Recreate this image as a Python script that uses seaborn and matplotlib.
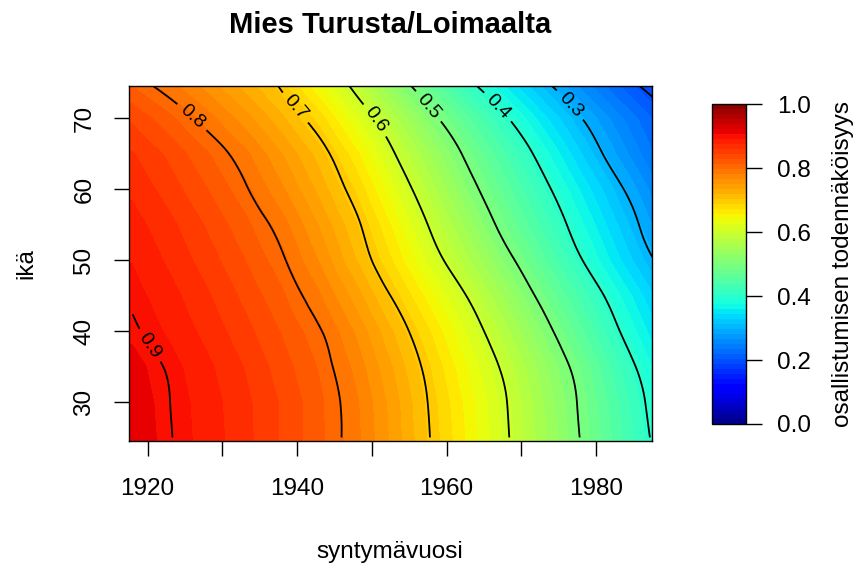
import numpy as np
import matplotlib
matplotlib.use("Agg")
import matplotlib.pyplot as plt
import matplotlib.tri as mtri
from matplotlib.colors import ListedColormap, Normalize
import seaborn as sns

# Predicted participation probability by birth year (columns) and age (rows)
birth_years = [1918, 1923, 1928, 1933, 1938, 1943, 1948, 1953,
               1958, 1963, 1968, 1973, 1978, 1983, 1988]
ages = [25, 30, 35, 40, 45, 50, 55, 60, 65, 70, 75]

p_age25 = [0.916, 0.901, 0.884, 0.865, 0.842, 0.817, 0.786, 0.744, 0.698, 0.652, 0.604, 0.552, 0.498, 0.444, 0.392]
p_age30 = [0.915, 0.900, 0.883, 0.864, 0.842, 0.817, 0.784, 0.742, 0.695, 0.649, 0.601, 0.548, 0.494, 0.439, 0.385]
p_age35 = [0.912, 0.897, 0.879, 0.859, 0.836, 0.811, 0.776, 0.733, 0.687, 0.639, 0.590, 0.537, 0.483, 0.426, 0.371]
p_age40 = [0.903, 0.888, 0.870, 0.850, 0.827, 0.802, 0.763, 0.718, 0.671, 0.621, 0.568, 0.514, 0.458, 0.402, 0.348]
p_age45 = [0.897, 0.881, 0.862, 0.840, 0.816, 0.784, 0.742, 0.695, 0.647, 0.596, 0.542, 0.487, 0.433, 0.379, 0.327]
p_age50 = [0.890, 0.872, 0.852, 0.829, 0.803, 0.765, 0.719, 0.670, 0.617, 0.565, 0.512, 0.457, 0.402, 0.348, 0.298]
p_age55 = [0.882, 0.864, 0.842, 0.818, 0.789, 0.749, 0.705, 0.652, 0.594, 0.539, 0.484, 0.432, 0.380, 0.328, 0.277]
p_age60 = [0.872, 0.852, 0.829, 0.803, 0.769, 0.730, 0.685, 0.628, 0.570, 0.514, 0.461, 0.410, 0.358, 0.307, 0.257]
p_age65 = [0.861, 0.840, 0.815, 0.787, 0.751, 0.712, 0.661, 0.601, 0.545, 0.489, 0.437, 0.384, 0.330, 0.279, 0.232]
p_age70 = [0.841, 0.817, 0.789, 0.758, 0.723, 0.681, 0.626, 0.569, 0.510, 0.456, 0.403, 0.350, 0.301, 0.256, 0.215]
p_age75 = [0.810, 0.785, 0.757, 0.726, 0.693, 0.639, 0.584, 0.522, 0.463, 0.406, 0.354, 0.306, 0.259, 0.217, 0.180]

plain_levels = [0.2]
labelled_levels = [0.3, 0.4, 0.5, 0.6, 0.7, 0.8, 0.9]

title = "Mies Turusta/Loimaalta"
x_label = "syntymävuosi"
y_label = "ikä"
cbar_label = "osallistumisen todennäköisyys"
x_ticks = [1920, 1930, 1940, 1950, 1960, 1970, 1980]
x_ticklabels = ["1920", "", "1940", "", "1960", "", "1980"]
y_ticks = [30, 40, 50, 60, 70]
cbar_ticks = [0.0, 0.2, 0.4, 0.6, 0.8, 1.0]

# where the contour labels sit (birth year, age)
label_spots = [(1976.3, 71.6), (1966.7, 71.4), (1957.3, 71.4), (1950.2, 69.5),
               (1939.7, 71.4), (1926.0, 70.2), (1920.2, 37.9)]

sns.set_theme(style="white")
plt.rcParams["font.family"] = ["Liberation Sans", "DejaVu Sans"]
plt.rcParams["axes.edgecolor"] = "black"
plt.rcParams["axes.linewidth"] = 1.0

prob = np.array([p_age25, p_age30, p_age35, p_age40, p_age45, p_age50,
                 p_age55, p_age60, p_age65, p_age70, p_age75])

cmap = ListedColormap(sns.mpl_palette("jet", 64))
norm = Normalize(vmin=0.0, vmax=1.0)

W, H = 857, 568
fig = plt.figure(figsize=(W / 100, H / 100), dpi=100)
fig.patch.set_facecolor("white")

ax = fig.add_axes([129 / W, 1 - 441 / H, 523 / W, 355 / H])
half_x = (birth_years[1] - birth_years[0]) / 2
half_y = (ages[1] - ages[0]) / 2
im = ax.imshow(prob, origin="lower", aspect="auto", cmap=cmap, norm=norm,
               extent=(birth_years[0] - half_x, birth_years[-1] + half_x,
                       ages[0] - half_y, ages[-1] + half_y),
               interpolation="bilinear", interpolation_stage="data")
ax.set_xlim(1917.5, 1987.5)
ax.set_ylim(24.5, 74.5)

# smooth contour lines: refine the grid with matplotlib's cubic tri refiner
gx, gy = np.meshgrid(birth_years, ages)
triang = mtri.Triangulation(gx.ravel(), gy.ravel())
fine_tri, fine_prob = mtri.UniformTriRefiner(triang).refine_field(
    prob.ravel(), subdiv=3)

ax.tricontour(fine_tri, fine_prob, levels=plain_levels,
              colors="black", linewidths=1.3)
cs = ax.tricontour(fine_tri, fine_prob, levels=labelled_levels,
                   colors="black", linewidths=1.3)
ax.clabel(cs, fmt="%.1f", fontsize=14, inline=True, inline_spacing=6,
          manual=label_spots)

for side in ["top", "right", "bottom", "left"]:
    ax.spines[side].set_visible(True)
    ax.spines[side].set_color("black")
    ax.spines[side].set_linewidth(1.0)

ax.set_xticks(x_ticks)
ax.set_xticklabels(x_ticklabels)
ax.set_yticks(y_ticks)
ax.set_yticklabels([str(v) for v in y_ticks])
ax.tick_params(axis="both", which="major", direction="out", length=10.8,
               width=1.0, color="black", labelcolor="black", labelsize=17.5,
               bottom=True, left=True, top=False, right=False)
ax.tick_params(axis="x", pad=15.5)
ax.tick_params(axis="y", pad=13.5, labelrotation=90)
for lbl in ax.get_yticklabels():
    lbl.set_verticalalignment("center")

fig.text(390 / W, 1 - 33 / H, title, ha="center", va="baseline",
         fontsize=21, fontweight="bold", color="black")
fig.text(390 / W, 1 - 558 / H, x_label, ha="center", va="baseline",
         fontsize=17.5, color="black")
fig.text(32 / W, 1 - 263.5 / H, y_label, rotation=90, rotation_mode="anchor",
         ha="center", va="baseline", fontsize=17.5, color="black")

cax = fig.add_axes([711.7 / W, 1 - 424 / H, 34.3 / W, 319.7 / H])
cb = fig.colorbar(im, cax=cax, ticks=cbar_ticks)
cb.ax.set_yticklabels([f"{t:.1f}" for t in cbar_ticks])
cb.outline.set_edgecolor("black")
cb.outline.set_linewidth(1.0)
cb.ax.tick_params(direction="out", length=11.2, width=1.0, pad=11.2,
                  labelsize=17.5, colors="black")
fig.text(849 / W, 1 - 264 / H, cbar_label, rotation=90, rotation_mode="anchor",
         ha="center", va="baseline", fontsize=17.5, color="black")

fig.savefig("out.png", dpi=100, facecolor="white")
